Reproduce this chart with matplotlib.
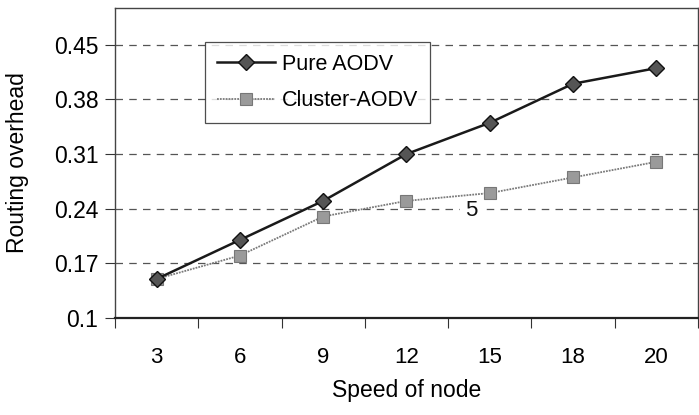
import numpy as np
import matplotlib
matplotlib.use('Agg')
import matplotlib.pyplot as plt

plt.rcParams['font.family'] = ['Liberation Sans', 'DejaVu Sans']

# data
speeds = ['3', '6', '9', '12', '15', '18', '20']
pure_aodv = [0.15, 0.20, 0.25, 0.31, 0.35, 0.40, 0.42]
cluster_aodv = [0.15, 0.18, 0.23, 0.25, 0.26, 0.28, 0.30]
y_ticks = [0.1, 0.17, 0.24, 0.31, 0.38, 0.45]
y_tick_labels = ['0.1', '0.17', '0.24', '0.31', '0.38', '0.45']

fig = plt.figure(figsize=(6.99, 4.15), dpi=100)
ax = fig.add_axes([0.1645, 0.2337, 0.834, 0.747])

x = np.arange(len(speeds))

ax.plot(x, pure_aodv, color='#1a1a1a', linewidth=1.8, marker='D', markersize=8,
        markerfacecolor='#555555', markeredgecolor='#111111', markeredgewidth=1,
        label='Pure AODV', zorder=4)
ax.plot(x, cluster_aodv, color='#7a7a7a', linewidth=1.3, linestyle=(0, (1, 0.6)),
        marker='s', markersize=8, markerfacecolor='#9a9a9a', markeredgecolor='#777777',
        markeredgewidth=0.8, label='Cluster-AODV', zorder=3)

# stray label in the original picture
ax.text(3.78, 0.238, '5', fontsize=16, ha='center', va='center', color='#111111',
        backgroundcolor='white', zorder=2)

ax.set_xlim(-0.5, len(speeds) - 0.5)
ax.set_ylim(0.1, 0.497)
ax.set_xticks(x)
ax.set_xticklabels(speeds, fontsize=16)
ax.set_xticks(np.arange(len(speeds) + 1) - 0.5, minor=True)
ax.tick_params(axis='x', which='major', length=0, pad=21)
ax.tick_params(axis='x', which='minor', length=7, width=0.8, color='#333333')
ax.set_yticks(y_ticks)
ax.set_yticklabels(y_tick_labels, fontsize=16.5)
ax.tick_params(axis='y', length=7, width=0.8, color='#333333', pad=5)

ax.yaxis.grid(True, linestyle=(0, (6, 5)), color='#555555', linewidth=0.9)
ax.set_axisbelow(True)
for sp in ax.spines.values():
    sp.set_color('#444444')
    sp.set_linewidth(1.0)
ax.spines['bottom'].set_linewidth(1.6)
ax.spines['bottom'].set_color('#222222')

ax.set_xlabel('Speed of node', fontsize=16.5, labelpad=8)
ax.set_ylabel('Routing overhead', fontsize=16.5, labelpad=18)

leg = ax.legend(loc='upper left', bbox_to_anchor=(0.155, 0.89), fontsize=15.5,
                frameon=True, fancybox=False, edgecolor='#222222',
                handlelength=2.7, handletextpad=0.3, borderpad=0.55,
                labelspacing=0.72, borderaxespad=0)
leg.get_frame().set_linewidth(0.9)

fig.savefig('out.png', dpi=100)
